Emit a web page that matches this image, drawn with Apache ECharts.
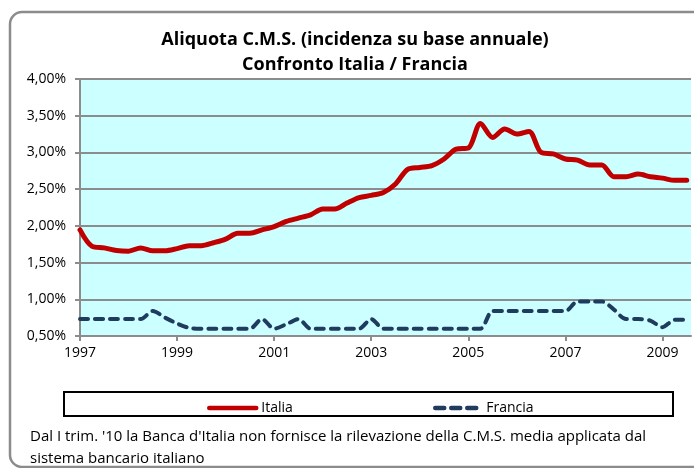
<!DOCTYPE html>
<html>
<head>
<meta charset="utf-8">
<script src="https://cdn.jsdelivr.net/npm/echarts@6/dist/echarts.min.js"></script>
<style>
html,body{margin:0;padding:0;background:#fff;}
#chart{width:694px;height:468px;}
</style>
</head>
<body>
<div id="chart"></div>
<script>
// Quarterly data, 1997 Q1 ... 2009 Q3
var startYear = 1997;
var tickYears = [1997, 1999, 2001, 2003, 2005, 2007, 2009];
var italia = [
  1.945, 1.72, 1.70, 1.665, 1.655, 1.70, 1.66, 1.66, 1.69, 1.73,
  1.73, 1.77, 1.82, 1.90, 1.90, 1.945, 1.99, 2.06, 2.105, 2.15,
  2.23, 2.23, 2.31, 2.385, 2.415, 2.455, 2.57, 2.77, 2.795, 2.82,
  2.91, 3.045, 3.06, 3.395, 3.205, 3.32, 3.25, 3.285, 3.00, 2.98,
  2.91, 2.895, 2.83, 2.83, 2.67, 2.67, 2.705, 2.67, 2.65, 2.62,
  2.62
];
var francia = [
  0.73, 0.73, 0.73, 0.73, 0.73, 0.73, 0.84, 0.75, 0.67, 0.61,
  0.60, 0.60, 0.60, 0.60, 0.60, 0.73, 0.60, 0.66, 0.73, 0.60,
  0.60, 0.60, 0.60, 0.60, 0.73, 0.60, 0.60, 0.60, 0.60, 0.60,
  0.60, 0.60, 0.60, 0.60, 0.84, 0.84, 0.84, 0.84, 0.84, 0.84,
  0.84, 0.97, 0.97, 0.97, 0.86, 0.73, 0.73, 0.71, 0.62, 0.72,
  0.72
];
var seriesNames = ['Italia', 'Francia'];
var titleLines = ['Aliquota C.M.S. (incidenza su base annuale)', 'Confronto Italia / Francia'];
var footnote = ["Dal I trim. '10 la Banca d'Italia non fornisce la rilevazione della C.M.S. media applicata dal", 'sistema bancario italiano'];

var FONT = 'Open Sans';
var tickPos = tickYears.map(function (y) { return (y - startYear) * 4; });
function pairs(arr) { return arr.map(function (v, i) { return [i, v]; }); }
var hiddenSymbol = {color: 'rgba(0,0,0,0)', borderWidth: 0, opacity: 0};

var chart = echarts.init(document.getElementById('chart'), null, {renderer: 'canvas'});
chart.setOption({
  backgroundColor: '#ffffff',
  animation: false,
  title: {
    text: titleLines.join('\n'),
    left: 350, top: 22, textAlign: 'center',
    textStyle: {fontFamily: FONT, fontSize: 18, fontWeight: 'bold', color: '#000', lineHeight: 25}
  },
  graphic: [
    {type: 'rect', shape: {x: 10, y: 12, width: 700, height: 455, r: 12},
     style: {fill: 'none', stroke: '#8c8c8c', lineWidth: 2.5}, z: 100},
    {type: 'rect', shape: {x: 64, y: 392, width: 609, height: 24},
     style: {fill: '#fff', stroke: '#000', lineWidth: 2}, z: 1},
    {type: 'text', left: 30, top: 426,
     style: {text: footnote.join('\n'), fontFamily: FONT, fontSize: 15, lineHeight: 22, fill: '#000'}}
  ],
  legend: [
    {data: [seriesNames[0]], left: 202, top: 396, itemWidth: 47, itemHeight: 14, itemGap: 0,
     itemStyle: hiddenSymbol, lineStyle: {width: 4.5, cap: 'round'},
     textStyle: {fontFamily: FONT, fontSize: 14, color: '#000'}, z: 10},
    {data: [seriesNames[1]], left: 428, top: 396, itemWidth: 46, itemHeight: 14, itemGap: 0,
     itemStyle: hiddenSymbol, lineStyle: {width: 4.5, type: [9, 7], cap: 'round'},
     textStyle: {fontFamily: FONT, fontSize: 14, color: '#000'}, z: 10}
  ],
  grid: {left: 80, top: 79, right: 3, bottom: 132, show: true, backgroundColor: '#CCFFFF', borderWidth: 0},
  xAxis: {
    type: 'value', min: 0, max: 50.35,
    axisLine: {show: true, lineStyle: {color: '#8c8c8c', width: 2}},
    axisTick: {show: true, length: 5, customValues: tickPos, lineStyle: {color: '#8c8c8c', width: 2}},
    axisLabel: {customValues: tickPos, margin: 10, fontFamily: FONT, fontSize: 14, color: '#000',
      formatter: function (v) { return String(startYear + Math.round(v) / 4); }},
    splitLine: {show: false}
  },
  yAxis: {
    type: 'value', min: 0.5, max: 4.0, interval: 0.5,
    axisLine: {show: true, lineStyle: {color: '#8c8c8c', width: 2}},
    axisTick: {show: true, length: 5, lineStyle: {color: '#8c8c8c', width: 2}},
    axisLabel: {margin: 14, fontFamily: FONT, fontSize: 14, color: '#000',
      formatter: function (v) { return v.toFixed(2).replace('.', ',') + '%'; }},
    splitLine: {show: true, lineStyle: {color: '#8c8c8c', width: 2}}
  },
  series: [
    {name: seriesNames[0], type: 'line', data: pairs(italia), symbol: 'none', smooth: 0.3,
     color: '#C00000', lineStyle: {color: '#C00000', width: 5, cap: 'round', join: 'round'}, z: 3},
    {name: seriesNames[1], type: 'line', data: pairs(francia), symbol: 'none', smooth: 0.3,
     color: '#1F3B5E', lineStyle: {color: '#1F3B5E', width: 4, type: [8, 7], cap: 'round', join: 'round'}, z: 2}
  ]
});
</script>
</body>
</html>
